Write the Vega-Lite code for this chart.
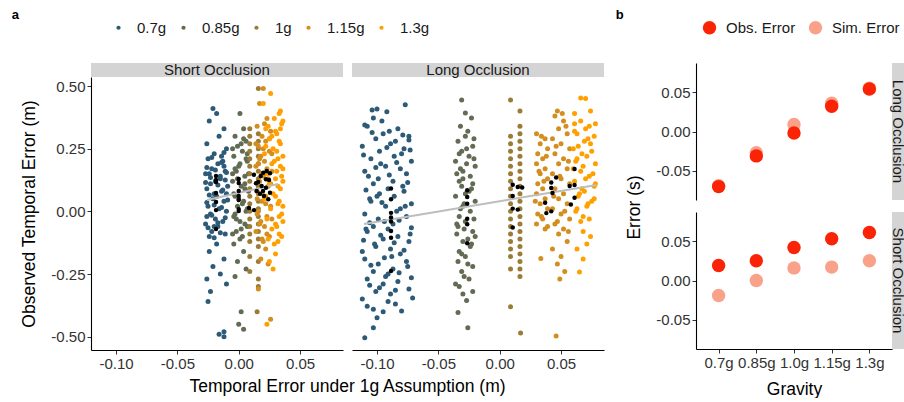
{
"$schema":"https://vega.github.io/schema/vega-lite/v6.json",
"padding":{"left":11,"top":9,"right":0,"bottom":0},
"config":{
 "font":"Liberation Sans",
 "locale":{"number":{"decimal":".","thousands":",","grouping":[3],"currency":["$",""],"minus":"-"}},
 "view":{"stroke":null},
 "axis":{"grid":false,"domainColor":"#000000","domainWidth":1.1,"tickColor":"#333333","tickSize":4,"labelColor":"#333333","labelFontSize":15,"labelPadding":2,"titleFontSize":17.5,"titleFontWeight":"normal","titleColor":"#000000"},
 "legend":{"labelFontSize":15,"labelColor":"#1a1a1a"},
 "title":{"fontSize":13,"fontWeight":"bold","color":"#000000","anchor":"start"}
},
"datasets":{
"s7":[{"x":-0.021,"y":0.41},{"x":-0.018,"y":0.39},{"x":-0.024,"y":0.36},{"x":-0.012,"y":0.33},{"x":-0.016,"y":0.30},{"x":-0.026,"y":0.27},{"x":-0.010,"y":0.25},{"x":-0.020,"y":0.23},{"x":-0.025,"y":0.21},{"x":-0.013,"y":0.20},{"x":-0.017,"y":0.19},{"x":-0.022,"y":0.17},{"x":-0.011,"y":0.16},{"x":-0.027,"y":0.15},{"x":-0.015,"y":0.14},{"x":-0.019,"y":0.12},{"x":-0.023,"y":0.11},{"x":-0.009,"y":0.10},{"x":-0.026,"y":0.09},{"x":-0.014,"y":0.08},{"x":-0.018,"y":0.06},{"x":-0.021,"y":0.05},{"x":-0.012,"y":0.04},{"x":-0.025,"y":0.02},{"x":-0.016,"y":0.01},{"x":-0.010,"y":0.0},{"x":-0.023,"y":-0.01},{"x":-0.019,"y":-0.03},{"x":-0.013,"y":-0.04},{"x":-0.027,"y":-0.05},{"x":-0.017,"y":-0.06},{"x":-0.022,"y":-0.08},{"x":-0.011,"y":-0.09},{"x":-0.024,"y":-0.10},{"x":-0.015,"y":0.13},{"x":-0.020,"y":0.07},{"x":-0.026,"y":-0.02},{"x":-0.012,"y":0.18},{"x":-0.024,"y":0.15},{"x":-0.010,"y":0.07},{"x":-0.020,"y":-0.06},{"x":-0.014,"y":0.22},{"x":-0.022,"y":0.215},{"x":-0.014,"y":0.195},{"x":-0.026,"y":0.175},{"x":-0.010,"y":0.155},{"x":-0.019,"y":0.165},{"x":-0.023,"y":0.135},{"x":-0.011,"y":0.125},{"x":-0.017,"y":0.105},{"x":-0.027,"y":0.115},{"x":-0.013,"y":0.085},{"x":-0.024,"y":0.065},{"x":-0.009,"y":0.045},{"x":-0.020,"y":0.025},{"x":-0.026,"y":0.035},{"x":-0.014,"y":0.015},{"x":-0.022,"y":-0.015},{"x":-0.011,"y":-0.025},{"x":-0.017,"y":-0.045},{"x":-0.025,"y":-0.065},{"x":-0.015,"y":-0.085},{"x":-0.020,"y":-0.105},{"x":-0.012,"y":0.235},{"x":-0.018,"y":-0.13},{"x":-0.024,"y":-0.16},{"x":-0.012,"y":-0.19},{"x":-0.021,"y":-0.22},{"x":-0.015,"y":-0.25},{"x":-0.026,"y":-0.27},{"x":-0.010,"y":-0.29},{"x":-0.023,"y":-0.32},{"x":-0.025,"y":-0.36},{"x":-0.016,"y":-0.49},{"x":-0.012,"y":-0.50},{"x":-0.012,"y":-0.48}],
"s85":[{"x":0.001,"y":0.39},{"x":0.004,"y":0.33},{"x":-0.003,"y":0.30},{"x":0.006,"y":0.28},{"x":-0.001,"y":0.26},{"x":0.003,"y":0.24},{"x":-0.004,"y":0.22},{"x":0.007,"y":0.20},{"x":0.000,"y":0.18},{"x":-0.002,"y":0.16},{"x":0.005,"y":0.14},{"x":-0.005,"y":0.12},{"x":0.002,"y":0.10},{"x":0.008,"y":0.08},{"x":-0.003,"y":0.06},{"x":0.004,"y":0.04},{"x":-0.001,"y":0.02},{"x":0.006,"y":0.0},{"x":-0.004,"y":-0.02},{"x":0.001,"y":-0.04},{"x":0.007,"y":-0.06},{"x":-0.002,"y":-0.08},{"x":0.003,"y":-0.10},{"x":-0.005,"y":0.15},{"x":0.005,"y":0.11},{"x":0.000,"y":0.05},{"x":-0.003,"y":-0.01},{"x":0.006,"y":0.21},{"x":0.002,"y":-0.07},{"x":0.002,"y":0.27},{"x":-0.005,"y":0.25},{"x":0.007,"y":0.23},{"x":0.001,"y":0.19},{"x":-0.003,"y":0.17},{"x":0.008,"y":0.15},{"x":-0.001,"y":0.13},{"x":0.005,"y":0.09},{"x":-0.004,"y":0.07},{"x":0.003,"y":0.03},{"x":0.007,"y":0.01},{"x":-0.002,"y":-0.03},{"x":0.005,"y":-0.05},{"x":-0.005,"y":-0.09},{"x":0.001,"y":-0.11},{"x":0.004,"y":0.29},{"x":-0.004,"y":-0.13},{"x":0.004,"y":-0.16},{"x":-0.001,"y":-0.20},{"x":0.006,"y":-0.23},{"x":-0.003,"y":-0.26},{"x":0.002,"y":-0.40},{"x":0.000,"y":-0.45},{"x":0.004,"y":-0.47}],
"s1":[{"x":0.009,"y":0.33},{"x":0.009,"y":0.30},{"x":0.009,"y":0.27},{"x":0.009,"y":0.24},{"x":0.009,"y":0.21},{"x":0.009,"y":0.18},{"x":0.009,"y":0.15},{"x":0.009,"y":0.12},{"x":0.009,"y":0.09},{"x":0.009,"y":0.06},{"x":0.009,"y":0.03},{"x":0.009,"y":0.0},{"x":0.009,"y":-0.03},{"x":0.009,"y":-0.06},{"x":0.009,"y":-0.09},{"x":0.009,"y":-0.12},{"x":0.009,"y":-0.18},{"x":0.009,"y":-0.24},{"x":0.016,"y":0.49},{"x":0.016,"y":0.31},{"x":0.016,"y":0.28},{"x":0.016,"y":0.25},{"x":0.016,"y":0.22},{"x":0.016,"y":0.19},{"x":0.016,"y":0.16},{"x":0.016,"y":0.13},{"x":0.016,"y":0.10},{"x":0.016,"y":0.07},{"x":0.016,"y":0.04},{"x":0.016,"y":0.01},{"x":0.016,"y":-0.02},{"x":0.016,"y":-0.05},{"x":0.016,"y":-0.08},{"x":0.016,"y":-0.11},{"x":0.016,"y":-0.14},{"x":0.016,"y":-0.20},{"x":0.016,"y":-0.27},{"x":0.016,"y":-0.30},{"x":0.015,"y":-0.40}],
"s115":[{"x":0.020,"y":0.49},{"x":0.017,"y":0.43},{"x":0.023,"y":0.37},{"x":0.015,"y":0.34},{"x":0.026,"y":0.32},{"x":0.019,"y":0.30},{"x":0.022,"y":0.28},{"x":0.016,"y":0.26},{"x":0.025,"y":0.24},{"x":0.018,"y":0.22},{"x":0.021,"y":0.20},{"x":0.014,"y":0.18},{"x":0.027,"y":0.16},{"x":0.020,"y":0.14},{"x":0.017,"y":0.12},{"x":0.024,"y":0.10},{"x":0.015,"y":0.08},{"x":0.022,"y":0.06},{"x":0.019,"y":0.04},{"x":0.026,"y":0.02},{"x":0.016,"y":0.0},{"x":0.023,"y":-0.02},{"x":0.018,"y":-0.04},{"x":0.021,"y":-0.06},{"x":0.014,"y":-0.08},{"x":0.025,"y":-0.10},{"x":0.020,"y":-0.12},{"x":0.017,"y":0.21},{"x":0.024,"y":0.13},{"x":0.019,"y":0.07},{"x":0.015,"y":-0.01},{"x":0.021,"y":0.35},{"x":0.025,"y":0.29},{"x":0.014,"y":0.27},{"x":0.020,"y":0.25},{"x":0.027,"y":0.23},{"x":0.016,"y":0.19},{"x":0.023,"y":0.17},{"x":0.019,"y":0.15},{"x":0.026,"y":0.11},{"x":0.015,"y":0.05},{"x":0.022,"y":0.03},{"x":0.027,"y":-0.03},{"x":0.017,"y":-0.05},{"x":0.023,"y":-0.09},{"x":0.019,"y":-0.11},{"x":0.022,"y":-0.15},{"x":0.018,"y":-0.19},{"x":0.024,"y":-0.21},{"x":0.016,"y":-0.31},{"x":0.026,"y":-0.43}],
"s13":[{"x":0.026,"y":0.47},{"x":0.020,"y":0.43},{"x":0.033,"y":0.39},{"x":0.029,"y":0.37},{"x":0.035,"y":0.35},{"x":0.022,"y":0.33},{"x":0.031,"y":0.31},{"x":0.025,"y":0.29},{"x":0.034,"y":0.27},{"x":0.028,"y":0.25},{"x":0.021,"y":0.23},{"x":0.032,"y":0.21},{"x":0.027,"y":0.19},{"x":0.036,"y":0.17},{"x":0.023,"y":0.15},{"x":0.030,"y":0.13},{"x":0.025,"y":0.11},{"x":0.034,"y":0.09},{"x":0.028,"y":0.07},{"x":0.021,"y":0.05},{"x":0.032,"y":0.03},{"x":0.026,"y":0.01},{"x":0.035,"y":-0.01},{"x":0.023,"y":-0.03},{"x":0.030,"y":-0.05},{"x":0.027,"y":-0.07},{"x":0.033,"y":-0.09},{"x":0.024,"y":-0.11},{"x":0.029,"y":-0.13},{"x":0.031,"y":0.24},{"x":0.035,"y":0.14},{"x":0.033,"y":0.04},{"x":0.036,"y":-0.04},{"x":0.027,"y":0.30},{"x":0.036,"y":0.36},{"x":0.024,"y":0.34},{"x":0.030,"y":0.32},{"x":0.033,"y":0.28},{"x":0.022,"y":0.26},{"x":0.036,"y":0.22},{"x":0.029,"y":0.20},{"x":0.034,"y":0.18},{"x":0.031,"y":0.16},{"x":0.036,"y":0.12},{"x":0.032,"y":0.10},{"x":0.030,"y":0.06},{"x":0.036,"y":0.02},{"x":0.033,"y":-0.02},{"x":0.031,"y":-0.06},{"x":0.035,"y":-0.10},{"x":0.032,"y":-0.12},{"x":0.034,"y":0.33},{"x":0.030,"y":-0.17},{"x":0.025,"y":-0.20},{"x":0.028,"y":-0.23},{"x":0.023,"y":-0.45},{"x":0.034,"y":0.40}],
"mS":[{"x":-0.0185,"y":0.141},{"x":-0.0185,"y":0.125},{"x":-0.0185,"y":0.117},{"x":-0.0185,"y":0.073},{"x":-0.0185,"y":0.037},{"x":-0.0185,"y":0.005},{"x":-0.0185,"y":-0.070},{"x":0.0,"y":0.129},{"x":0.0,"y":0.113},{"x":0.0,"y":0.081},{"x":0.0,"y":0.061},{"x":0.0,"y":0.045},{"x":0.0,"y":0.009},{"x":0.0,"y":0.001},{"x":0.0084,"y":0.013},{"x":0.0125,"y":0.005},{"x":0.0124,"y":0.146},{"x":0.0159,"y":0.117},{"x":0.0179,"y":0.141},{"x":0.020,"y":0.154},{"x":0.0228,"y":0.161},{"x":0.0255,"y":0.152},{"x":0.0187,"y":0.101},{"x":0.0222,"y":0.094},{"x":0.0247,"y":0.125},{"x":0.0146,"y":0.081},{"x":0.0173,"y":0.070},{"x":0.0206,"y":0.061},{"x":0.0241,"y":0.048},{"x":0.0255,"y":0.074},{"x":0.0141,"y":0.112},{"x":0.0222,"y":0.128},{"x":0.0198,"y":0.081}],
"fS":[{"x":-0.0259,"y":0.045},{"x":0.032,"y":0.109}],
"l7":[{"x":-0.108,"y":0.34},{"x":-0.083,"y":0.33},{"x":-0.095,"y":0.31},{"x":-0.074,"y":0.30},{"x":-0.101,"y":0.29},{"x":-0.089,"y":0.27},{"x":-0.112,"y":0.26},{"x":-0.078,"y":0.25},{"x":-0.098,"y":0.24},{"x":-0.086,"y":0.22},{"x":-0.105,"y":0.21},{"x":-0.072,"y":0.20},{"x":-0.093,"y":0.18},{"x":-0.081,"y":0.17},{"x":-0.110,"y":0.16},{"x":-0.076,"y":0.15},{"x":-0.099,"y":0.13},{"x":-0.087,"y":0.12},{"x":-0.103,"y":0.11},{"x":-0.091,"y":0.09},{"x":-0.078,"y":0.08},{"x":-0.098,"y":0.07},{"x":-0.086,"y":0.06},{"x":-0.105,"y":0.04},{"x":-0.072,"y":0.03},{"x":-0.093,"y":0.02},{"x":-0.081,"y":0.01},{"x":-0.110,"y":-0.01},{"x":-0.076,"y":-0.02},{"x":-0.099,"y":-0.03},{"x":-0.087,"y":-0.05},{"x":-0.103,"y":-0.06},{"x":-0.091,"y":-0.07},{"x":-0.108,"y":-0.08},{"x":-0.083,"y":-0.10},{"x":-0.095,"y":-0.11},{"x":-0.074,"y":-0.12},{"x":-0.101,"y":-0.14},{"x":-0.089,"y":-0.15},{"x":-0.112,"y":-0.16},{"x":-0.081,"y":-0.17},{"x":-0.110,"y":-0.19},{"x":-0.076,"y":-0.20},{"x":-0.099,"y":-0.21},{"x":-0.087,"y":-0.23},{"x":-0.103,"y":-0.24},{"x":-0.091,"y":-0.25},{"x":-0.108,"y":-0.27},{"x":-0.083,"y":-0.28},{"x":-0.095,"y":-0.29},{"x":-0.074,"y":-0.31},{"x":-0.101,"y":-0.32},{"x":-0.089,"y":-0.33},{"x":-0.112,"y":-0.35},{"x":-0.097,"y":0.19},{"x":-0.079,"y":0.10},{"x":-0.106,"y":0.05},{"x":-0.084,"y":0.0},{"x":-0.094,"y":-0.04},{"x":-0.073,"y":-0.09},{"x":-0.102,"y":-0.13},{"x":-0.088,"y":-0.18},{"x":-0.080,"y":0.23},{"x":-0.107,"y":0.14},{"x":-0.085,"y":0.28},{"x":-0.100,"y":0.06},{"x":-0.093,"y":-0.26},{"x":-0.075,"y":-0.22},{"x":-0.090,"y":0.32},{"x":-0.109,"y":-0.07},{"x":-0.077,"y":0.02},{"x":-0.104,"y":0.315},{"x":-0.079,"y":0.305},{"x":-0.092,"y":0.255},{"x":-0.111,"y":0.225},{"x":-0.073,"y":0.245},{"x":-0.084,"y":0.195},{"x":-0.101,"y":0.175},{"x":-0.090,"y":0.145},{"x":-0.075,"y":0.115},{"x":-0.109,"y":0.085},{"x":-0.096,"y":0.035},{"x":-0.082,"y":-0.035},{"x":-0.106,"y":-0.045},{"x":-0.072,"y":-0.065},{"x":-0.097,"y":-0.095},{"x":-0.086,"y":-0.125},{"x":-0.111,"y":-0.115},{"x":-0.078,"y":-0.155},{"x":-0.094,"y":-0.185},{"x":-0.105,"y":-0.215},{"x":-0.082,"y":-0.245},{"x":-0.072,"y":-0.265},{"x":-0.098,"y":-0.305},{"x":-0.085,"y":-0.315},{"x":-0.106,"y":-0.295},{"x":-0.077,"y":0.425},{"x":-0.104,"y":0.404},{"x":-0.100,"y":0.408},{"x":-0.092,"y":0.397},{"x":-0.103,"y":0.372},{"x":-0.110,"y":0.345},{"x":-0.074,"y":0.285},{"x":-0.096,"y":0.36},{"x":-0.108,"y":-0.378},{"x":-0.103,"y":-0.39},{"x":-0.100,"y":-0.424},{"x":-0.103,"y":-0.464},{"x":-0.110,"y":-0.504},{"x":-0.080,"y":-0.397},{"x":-0.071,"y":-0.346},{"x":-0.091,"y":-0.36},{"x":-0.085,"y":-0.37},{"x":-0.095,"y":-0.40}],
"l85":[{"x":-0.028,"y":0.30},{"x":-0.034,"y":0.28},{"x":-0.022,"y":0.26},{"x":-0.031,"y":0.24},{"x":-0.025,"y":0.22},{"x":-0.036,"y":0.20},{"x":-0.020,"y":0.18},{"x":-0.030,"y":0.16},{"x":-0.024,"y":0.14},{"x":-0.033,"y":0.12},{"x":-0.031,"y":0.10},{"x":-0.025,"y":0.08},{"x":-0.036,"y":0.06},{"x":-0.020,"y":0.04},{"x":-0.030,"y":0.02},{"x":-0.024,"y":0.0},{"x":-0.033,"y":-0.02},{"x":-0.028,"y":-0.04},{"x":-0.034,"y":-0.06},{"x":-0.022,"y":-0.08},{"x":-0.020,"y":-0.10},{"x":-0.030,"y":-0.12},{"x":-0.024,"y":-0.14},{"x":-0.033,"y":-0.16},{"x":-0.028,"y":-0.18},{"x":-0.034,"y":-0.20},{"x":-0.022,"y":-0.22},{"x":-0.031,"y":-0.24},{"x":-0.025,"y":-0.27},{"x":-0.036,"y":-0.29},{"x":-0.027,"y":0.25},{"x":-0.032,"y":0.17},{"x":-0.023,"y":0.09},{"x":-0.029,"y":0.03},{"x":-0.035,"y":-0.05},{"x":-0.026,"y":-0.11},{"x":-0.021,"y":0.21},{"x":-0.030,"y":0.13},{"x":-0.021,"y":0.29},{"x":-0.033,"y":0.23},{"x":-0.027,"y":0.19},{"x":-0.035,"y":0.15},{"x":-0.022,"y":0.11},{"x":-0.028,"y":0.07},{"x":-0.032,"y":0.01},{"x":-0.021,"y":-0.03},{"x":-0.029,"y":-0.07},{"x":-0.035,"y":-0.09},{"x":-0.023,"y":-0.13},{"x":-0.031,"y":-0.17},{"x":-0.026,"y":-0.21},{"x":-0.029,"y":-0.26},{"x":-0.031,"y":0.444},{"x":-0.028,"y":0.392},{"x":-0.023,"y":0.372},{"x":-0.032,"y":0.34},{"x":-0.026,"y":0.32},{"x":-0.034,"y":-0.403},{"x":-0.026,"y":-0.464},{"x":-0.027,"y":-0.356},{"x":-0.030,"y":-0.33},{"x":-0.022,"y":-0.32},{"x":-0.033,"y":-0.30}],
"l1":[{"x":0.0088,"y":0.30},{"x":0.0088,"y":0.27},{"x":0.0088,"y":0.24},{"x":0.0088,"y":0.21},{"x":0.0088,"y":0.18},{"x":0.0088,"y":0.15},{"x":0.0088,"y":0.12},{"x":0.0088,"y":0.09},{"x":0.0088,"y":0.06},{"x":0.0088,"y":0.03},{"x":0.0088,"y":0.0},{"x":0.0088,"y":-0.03},{"x":0.0088,"y":-0.06},{"x":0.0088,"y":-0.09},{"x":0.0088,"y":-0.12},{"x":0.0088,"y":-0.15},{"x":0.0088,"y":-0.18},{"x":0.0088,"y":-0.23},{"x":0.0165,"y":0.34},{"x":0.0165,"y":0.31},{"x":0.0165,"y":0.28},{"x":0.0165,"y":0.25},{"x":0.0165,"y":0.22},{"x":0.0165,"y":0.19},{"x":0.0165,"y":0.16},{"x":0.0165,"y":0.13},{"x":0.0165,"y":0.10},{"x":0.0165,"y":0.07},{"x":0.0165,"y":0.04},{"x":0.0165,"y":0.01},{"x":0.0165,"y":-0.02},{"x":0.0165,"y":-0.05},{"x":0.0165,"y":-0.08},{"x":0.0165,"y":-0.11},{"x":0.0165,"y":-0.14},{"x":0.0165,"y":-0.17},{"x":0.0165,"y":-0.20},{"x":0.0165,"y":-0.23},{"x":0.0165,"y":-0.26},{"x":0.0088,"y":0.444},{"x":0.0165,"y":0.40},{"x":0.0088,"y":-0.38},{"x":0.017,"y":-0.485}],
"l115":[{"x":0.030,"y":0.31},{"x":0.037,"y":0.29},{"x":0.033,"y":0.27},{"x":0.039,"y":0.25},{"x":0.031,"y":0.23},{"x":0.035,"y":0.21},{"x":0.030,"y":0.19},{"x":0.037,"y":0.17},{"x":0.033,"y":0.15},{"x":0.039,"y":0.13},{"x":0.031,"y":0.11},{"x":0.035,"y":0.09},{"x":0.030,"y":0.07},{"x":0.037,"y":0.05},{"x":0.033,"y":0.03},{"x":0.039,"y":0.01},{"x":0.031,"y":-0.01},{"x":0.035,"y":-0.03},{"x":0.030,"y":-0.05},{"x":0.037,"y":-0.07},{"x":0.034,"y":0.30},{"x":0.038,"y":0.22},{"x":0.032,"y":0.16},{"x":0.036,"y":0.12},{"x":0.029,"y":0.04},{"x":0.034,"y":-0.02},{"x":0.039,"y":-0.06},{"x":0.045,"y":0.38},{"x":0.052,"y":0.36},{"x":0.048,"y":0.33},{"x":0.055,"y":0.31},{"x":0.043,"y":0.29},{"x":0.050,"y":0.27},{"x":0.057,"y":0.25},{"x":0.045,"y":0.23},{"x":0.052,"y":0.21},{"x":0.048,"y":0.19},{"x":0.055,"y":0.17},{"x":0.043,"y":0.15},{"x":0.050,"y":0.13},{"x":0.057,"y":0.11},{"x":0.045,"y":0.09},{"x":0.052,"y":0.07},{"x":0.048,"y":0.05},{"x":0.055,"y":0.03},{"x":0.043,"y":0.01},{"x":0.050,"y":-0.01},{"x":0.057,"y":-0.03},{"x":0.045,"y":-0.05},{"x":0.052,"y":-0.07},{"x":0.048,"y":-0.09},{"x":0.054,"y":0.34},{"x":0.046,"y":0.26},{"x":0.056,"y":0.20},{"x":0.049,"y":0.14},{"x":0.044,"y":0.06},{"x":0.053,"y":0.0},{"x":0.047,"y":-0.04},{"x":0.056,"y":-0.08},{"x":0.055,"y":-0.12},{"x":0.043,"y":-0.15},{"x":0.050,"y":-0.18},{"x":0.047,"y":-0.21},{"x":0.053,"y":-0.24},{"x":0.049,"y":-0.27},{"x":0.0335,"y":-0.188},{"x":0.046,"y":-0.497},{"x":0.047,"y":0.40},{"x":0.051,"y":0.39}],
"l13":[{"x":0.066,"y":0.36},{"x":0.073,"y":0.34},{"x":0.061,"y":0.32},{"x":0.077,"y":0.30},{"x":0.069,"y":0.28},{"x":0.064,"y":0.26},{"x":0.075,"y":0.24},{"x":0.071,"y":0.22},{"x":0.062,"y":0.20},{"x":0.068,"y":0.18},{"x":0.066,"y":0.16},{"x":0.073,"y":0.14},{"x":0.061,"y":0.12},{"x":0.077,"y":0.10},{"x":0.069,"y":0.08},{"x":0.064,"y":0.06},{"x":0.075,"y":0.04},{"x":0.071,"y":0.02},{"x":0.062,"y":0.0},{"x":0.068,"y":-0.02},{"x":0.066,"y":-0.04},{"x":0.070,"y":0.33},{"x":0.074,"y":0.27},{"x":0.063,"y":0.21},{"x":0.076,"y":0.15},{"x":0.067,"y":0.09},{"x":0.072,"y":0.03},{"x":0.060,"y":0.25},{"x":0.078,"y":0.11},{"x":0.078,"y":0.35},{"x":0.063,"y":0.31},{"x":0.072,"y":0.29},{"x":0.067,"y":0.23},{"x":0.078,"y":0.19},{"x":0.060,"y":0.17},{"x":0.070,"y":0.13},{"x":0.065,"y":0.07},{"x":0.077,"y":0.05},{"x":0.063,"y":0.01},{"x":0.073,"y":-0.03},{"x":0.061,"y":0.35},{"x":0.066,"y":0.452},{"x":0.070,"y":0.45},{"x":0.074,"y":0.40},{"x":0.061,"y":0.39},{"x":0.068,"y":-0.08},{"x":0.074,"y":-0.10},{"x":0.071,"y":-0.13},{"x":0.063,"y":-0.15},{"x":0.068,"y":-0.19},{"x":0.065,"y":-0.242}],
"mL":[{"x":-0.0886,"y":0.091},{"x":-0.0886,"y":0.048},{"x":-0.0886,"y":-0.006},{"x":-0.0886,"y":-0.024},{"x":-0.0886,"y":-0.040},{"x":-0.0886,"y":-0.078},{"x":-0.0886,"y":-0.105},{"x":-0.0886,"y":-0.238},{"x":-0.0265,"y":0.084},{"x":-0.0265,"y":0.057},{"x":-0.0265,"y":0.030},{"x":-0.0265,"y":-0.029},{"x":-0.0265,"y":-0.051},{"x":-0.0265,"y":-0.127},{"x":0.0106,"y":0.106},{"x":0.0147,"y":0.097},{"x":0.0183,"y":0.095},{"x":0.0106,"y":0.061},{"x":0.0106,"y":0.011},{"x":0.0147,"y":0.007},{"x":0.0106,"y":-0.064},{"x":0.037,"y":0.034},{"x":0.038,"y":-0.007},{"x":0.042,"y":0.115},{"x":0.042,"y":0.093},{"x":0.043,"y":0.073},{"x":0.046,"y":0.135},{"x":0.042,"y":0.0},{"x":0.057,"y":0.101},{"x":0.061,"y":0.169},{"x":0.061,"y":0.105},{"x":0.058,"y":0.027},{"x":0.061,"y":0.054}],
"fL":[{"x":-0.1106,"y":-0.05},{"x":0.0789,"y":0.105}],
"pb":[{"o":"L","g":"0.7g","t":"Sim. Error","v":-0.069},{"o":"L","g":"0.85g","t":"Sim. Error","v":-0.027},{"o":"L","g":"1.0g","t":"Sim. Error","v":0.009},{"o":"L","g":"1.15g","t":"Sim. Error","v":0.036},{"o":"L","g":"1.3g","t":"Sim. Error","v":0.055},{"o":"S","g":"0.7g","t":"Sim. Error","v":-0.019},{"o":"S","g":"0.85g","t":"Sim. Error","v":0.0},{"o":"S","g":"1.0g","t":"Sim. Error","v":0.016},{"o":"S","g":"1.15g","t":"Sim. Error","v":0.017},{"o":"S","g":"1.3g","t":"Sim. Error","v":0.025},{"o":"L","g":"0.7g","t":"Obs. Error","v":-0.070},{"o":"L","g":"0.85g","t":"Obs. Error","v":-0.031},{"o":"L","g":"1.0g","t":"Obs. Error","v":-0.002},{"o":"L","g":"1.15g","t":"Obs. Error","v":0.032},{"o":"L","g":"1.3g","t":"Obs. Error","v":0.054},{"o":"S","g":"0.7g","t":"Obs. Error","v":0.019},{"o":"S","g":"0.85g","t":"Obs. Error","v":0.025},{"o":"S","g":"1.0g","t":"Obs. Error","v":0.042},{"o":"S","g":"1.15g","t":"Obs. Error","v":0.053},{"o":"S","g":"1.3g","t":"Obs. Error","v":0.061}]
},
"hconcat":[
{
 "title":{"text":"a","offset":-2,"dx":-9},
 "concat":[
  {"width":252,"height":14,"data":{"values":[{"t":"Short Occlusion"}]},"mark":{"type":"text","fontSize":15,"color":"#1a1a1a"},"encoding":{"text":{"field":"t","type":"nominal"}},"view":{"fill":"#d4d4d4","stroke":null}},
  {"width":252,"height":14,"data":{"values":[{"t":"Long Occlusion"}]},"mark":{"type":"text","fontSize":15,"color":"#1a1a1a"},"encoding":{"text":{"field":"t","type":"nominal"}},"view":{"fill":"#d4d4d4","stroke":null}},
  {"width":252,"height":273,
   "encoding":{
    "x":{"field":"x","type":"quantitative","scale":{"domain":[-0.1204,0.085],"nice":false,"zero":false},"axis":{"values":[-0.1,-0.05,0,0.05],"format":".2f","title":"Temporal Error under 1g Assumption (m)","titleX":256,"titlePadding":6}},
    "y":{"field":"y","type":"quantitative","scale":{"domain":[-0.553,0.536],"nice":false,"zero":false},"axis":{"values":[-0.5,-0.25,0,0.25,0.5],"format":".2f","title":"Observed Temporal Error (m)","titlePadding":12}}
   },
   "layer":[
    {"data":{"name":"s7"},"mark":{"type":"circle","size":25,"opacity":1},"encoding":{"color":{"datum":"0.7g","type":"nominal","scale":{"domain":["0.7g","0.85g","1g","1.15g","1.3g"],"range":["#2d5b77","#626b53","#9b7c37","#d38e1f","#ffa000"]},"legend":{"orient":"none","legendX":20,"legendY":-43,"direction":"horizontal","columns":5,"gridAlign":"each","title":null,"symbolSize":18,"symbolType":"circle","labelOffset":11,"columnPadding":9,"symbolStrokeWidth":0}}}},
    {"data":{"name":"s85"},"mark":{"type":"circle","size":25,"opacity":1},"encoding":{"color":{"datum":"0.85g","type":"nominal"}}},
    {"data":{"name":"s1"},"mark":{"type":"circle","size":25,"opacity":1},"encoding":{"color":{"datum":"1g","type":"nominal"}}},
    {"data":{"name":"s115"},"mark":{"type":"circle","size":25,"opacity":1},"encoding":{"color":{"datum":"1.15g","type":"nominal"}}},
    {"data":{"name":"s13"},"mark":{"type":"circle","size":25,"opacity":1},"encoding":{"color":{"datum":"1.3g","type":"nominal"}}},
    {"data":{"name":"fS"},"mark":{"type":"line","color":"#bdbdbd","strokeWidth":2},"encoding":{}},
    {"data":{"name":"mS"},"mark":{"type":"circle","size":20,"color":"#000000","opacity":1},"encoding":{}}
   ]},
  {"width":252,"height":273,
   "encoding":{
    "x":{"field":"x","type":"quantitative","scale":{"domain":[-0.1204,0.085],"nice":false,"zero":false},"axis":{"values":[-0.1,-0.05,0,0.05],"format":".2f","title":null}},
    "y":{"field":"y","type":"quantitative","scale":{"domain":[-0.553,0.536],"nice":false,"zero":false},"axis":null}
   },
   "layer":[
    {"data":{"name":"l7"},"mark":{"type":"circle","size":25,"opacity":1},"encoding":{"color":{"datum":"0.7g","type":"nominal"}}},
    {"data":{"name":"l85"},"mark":{"type":"circle","size":25,"opacity":1},"encoding":{"color":{"datum":"0.85g","type":"nominal"}}},
    {"data":{"name":"l1"},"mark":{"type":"circle","size":25,"opacity":1},"encoding":{"color":{"datum":"1g","type":"nominal"}}},
    {"data":{"name":"l115"},"mark":{"type":"circle","size":25,"opacity":1},"encoding":{"color":{"datum":"1.15g","type":"nominal"}}},
    {"data":{"name":"l13"},"mark":{"type":"circle","size":25,"opacity":1},"encoding":{"color":{"datum":"1.3g","type":"nominal"}}},
    {"data":{"name":"fL"},"mark":{"type":"line","color":"#bdbdbd","strokeWidth":2},"encoding":{}},
    {"data":{"name":"mL"},"mark":{"type":"circle","size":20,"color":"#000000","opacity":1},"encoding":{}}
   ]}
 ],
 "columns":2,"spacing":{"row":0,"column":9},"bounds":"flush"
},
{
 "title":{"text":"b","offset":-2,"dx":-10},
 "concat":[
  {"width":196,"height":137,"data":{"name":"pb"},"transform":[{"filter":"datum.o=='L'"}],
   "mark":{"type":"circle","size":180,"opacity":1},
   "encoding":{
    "x":{"field":"g","type":"ordinal","sort":null,"scale":{"type":"point","padding":0.6,"domain":["0.7g","0.85g","1.0g","1.15g","1.3g"]},"axis":null},
    "y":{"field":"v","type":"quantitative","scale":{"domain":[-0.087,0.087],"nice":false,"zero":false},"axis":{"values":[-0.05,0,0.05],"format":".2f","title":null}},
    "color":{"field":"t","type":"nominal","scale":{"domain":["Obs. Error","Sim. Error"],"range":["#fb2306","#f9a189"]},"legend":{"orient":"none","legendX":6,"legendY":-43,"direction":"horizontal","columns":2,"title":null,"symbolSize":180,"symbolType":"circle","labelOffset":9,"columnPadding":12,"symbolStrokeWidth":0}}
   }},
  {"width":12,"height":137,"data":{"values":[{"t":"Long Occlusion"}]},"mark":{"type":"text","fontSize":15,"angle":90,"color":"#1a1a1a"},"encoding":{"text":{"field":"t","type":"nominal"}},"view":{"fill":"#d4d4d4","stroke":null}},
  {"width":196,"height":137,"data":{"name":"pb"},"transform":[{"filter":"datum.o=='S'"}],
   "mark":{"type":"circle","size":180,"opacity":1},
   "encoding":{
    "x":{"field":"g","type":"ordinal","sort":null,"scale":{"type":"point","padding":0.6,"domain":["0.7g","0.85g","1.0g","1.15g","1.3g"]},"axis":{"title":"Gravity","labelAngle":0,"labelOverlap":false,"titlePadding":10}},
    "y":{"field":"v","type":"quantitative","scale":{"domain":[-0.087,0.087],"nice":false,"zero":false},"axis":{"values":[-0.05,0,0.05],"format":".2f","title":"Error (s)","titleY":-5,"titlePadding":12}},
    "color":{"field":"t","type":"nominal"}
   }},
  {"width":12,"height":137,"data":{"values":[{"t":"Short Occlusion"}]},"mark":{"type":"text","fontSize":15,"angle":90,"color":"#1a1a1a"},"encoding":{"text":{"field":"t","type":"nominal"}},"view":{"fill":"#d4d4d4","stroke":null}}
 ],
 "columns":2,"spacing":{"row":12,"column":0},"bounds":"flush"
}
],
"spacing":11,
"resolve":{"scale":{"color":"independent"},"legend":{"color":"independent"}}
}
